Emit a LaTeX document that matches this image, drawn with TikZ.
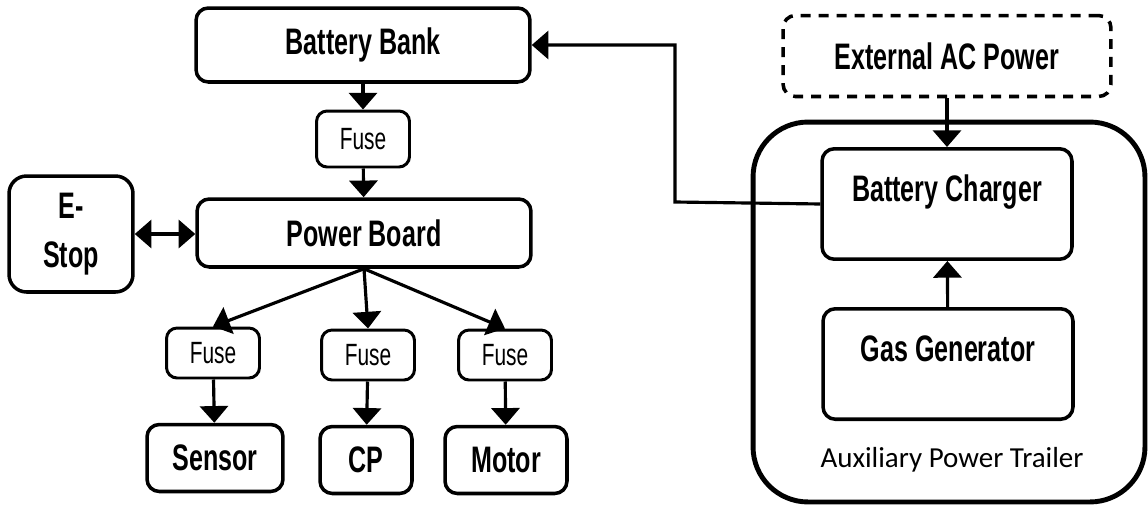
\documentclass[tikz,border=0pt]{standalone}
\usepackage{fontspec}
\usepackage{tikz}
\usetikzlibrary{arrows.meta}
\setmainfont{Carlito}
\newfontfamily\condfont[FakeStretch=0.68]{Liberation Sans}

\begin{document}
\begin{tikzpicture}[x=0.02cm,y=-0.02cm,
  box/.style={draw,line width=2pt,rounded corners=7pt,inner sep=0pt,align=center,
    font=\condfont\bfseries\fontsize{21}{27.5}\selectfont},
  fusebox/.style={draw,line width=1.7pt,rounded corners=6pt,inner sep=0pt,
    minimum width=1.86cm,minimum height=1cm,font=\condfont\fontsize{17.5}{20}\selectfont},
  topbox/.style={box,anchor=north,text height=1.06cm,text depth=1.15cm,minimum width=5cm},
  wire/.style={line width=1.8pt,-{Triangle[width=16pt,length=9.5pt]}},
  twoway/.style={line width=1.8pt,{Triangle[width=16pt,length=9.5pt]}-{Triangle[width=16pt,length=9.5pt]}}]
  \useasboundingbox (0,0) rectangle (1148,504);
  \node[box,minimum width=6.68cm,minimum height=1.48cm] (bank) at (363,45) {Battery Bank};
  \node[fusebox,minimum height=1.12cm] (fuse) at (363,139) {Fuse};
  \node[box,minimum width=6.68cm,minimum height=1.36cm] (board) at (364,233) {Power Board};
  \node[box,minimum width=2.48cm,minimum height=2.32cm,rounded corners=10pt] (estop) at (71,234) {E-\\Stop};
  \node[fusebox] (fuseS) at (213,353) {Fuse};
  \node[fusebox] (fuseC) at (368,355) {Fuse};
  \node[fusebox] (fuseM) at (505,355) {Fuse};
  \node[box,minimum width=2.72cm,minimum height=1.34cm] (sensor) at (215,458) {Sensor};
  \node[box,minimum width=1.84cm,minimum height=1.34cm] (cp) at (366,460) {CP};
  \node[box,minimum width=2.44cm,minimum height=1.34cm] (motor) at (506,460) {Motor};
  \node[draw,line width=2.8pt,rounded corners=1.1cm,inner sep=0pt,minimum width=7.84cm,minimum height=7.6cm] (trailer) at (949,312) {};
  \node[font=\fontsize{16.5}{19}\selectfont] (trailerlbl) at (952,460) {Auxiliary Power Trailer};
  \node[box,dash pattern=on 0.2cm off 0.16cm,minimum width=6.56cm,minimum height=1.62cm] (acpower) at (947,56) {External AC Power};
  \node[topbox] (charger) at (947,147) {Battery Charger};
  \node[topbox] (generator) at (948,307) {Gas Generator};
  \coordinate (bend) at (675,202);
  \draw[wire] (bank) -- (fuse);
  \draw[wire] (fuse) -- (board);
  \draw[twoway] (estop.east) -- (estop.east -| board.west);
  \draw[wire] (board.south) -- (fuseS.north);
  \draw[wire] (board.south) -- (fuseC.north);
  \draw[wire] (board.south) -- (fuseM.north);
  \draw[wire] (fuseS) -- (sensor);
  \draw[wire] (fuseC) -- (cp);
  \draw[wire] (fuseM) -- (motor);
  \draw[wire] (acpower) -- (charger);
  \draw[wire] (generator) -- (charger);
  \draw[wire] (charger.west) -- (bend) |- (bank.east);
\end{tikzpicture}
\end{document}
